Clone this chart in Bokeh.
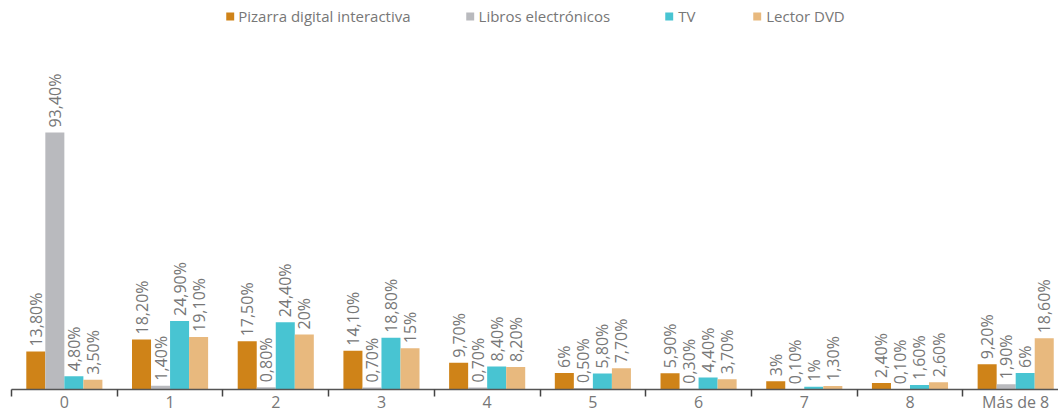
from bokeh.plotting import figure
from bokeh.models import ColumnDataSource, Range1d, FixedTicker, Legend
from bokeh.transform import dodge
from bokeh.core.properties import value
from bokeh.embed import file_html
from bokeh.resources import INLINE

categories = ["0", "1", "2", "3", "4", "5", "6", "7", "8", "Más de 8"]
series_names = ["Pizarra digital interactiva", "Libros electrónicos", "TV", "Lector DVD"]
pizarra = [13.8, 18.2, 17.5, 14.1, 9.7, 6.0, 5.9, 3.0, 2.4, 9.2]
libros = [93.4, 1.4, 0.8, 0.7, 0.7, 0.5, 0.3, 0.1, 0.1, 1.9]
tv = [4.8, 24.9, 24.4, 18.8, 8.4, 5.8, 4.4, 1.0, 1.6, 6.0]
dvd = [3.5, 19.1, 20.0, 15.0, 8.2, 7.7, 3.7, 1.3, 2.6, 18.6]
colors = ["#CF8318", "#B9BABE", "#48C4D2", "#E8B97E"]

FONT = "Open Sans"
TXT = "#777777"


def fmt(v):
    if abs(v - round(v)) < 1e-9:
        return f"{int(round(v))}%"
    return f"{v:.2f}".replace(".", ",") + "%"


xs = [i + 0.5 for i in range(len(categories))]

p = figure(width=1058, height=415, output_backend="svg", toolbar_location=None,
           x_range=Range1d(0, 9.905), y_range=Range1d(0, 141.4),
           min_border_left=11, min_border_right=0, min_border_top=0, min_border_bottom=0)
p.outline_line_color = None
p.grid.visible = False
p.yaxis.visible = False

offsets = [-0.27, -0.09, 0.09, 0.27]
items = []
for name, vals, col, off in zip(series_names, [pizarra, libros, tv, dvd], colors, offsets):
    src = ColumnDataSource(dict(x=xs, y=vals, lab=[fmt(v) for v in vals]))
    r = p.vbar(x=dodge("x", off), top="y", width=0.18, source=src,
               fill_color=col, line_color=None)
    p.text(x=dodge("x", off), y="y", text="lab", source=src, angle=1.5707963,
           text_align="left", text_baseline="middle", x_offset=0, y_offset=-5,
           text_color=TXT, text_font=value(FONT), text_font_size="16px")
    items.append((name, [r]))

legend = Legend(items=items, orientation="horizontal", location="top_center",
                border_line_color=None, background_fill_alpha=0,
                glyph_width=10, glyph_height=10, label_standoff=4, spacing=54,
                padding=0, margin=6, label_text_font=FONT, label_text_font_size="15px",
                label_text_color=TXT)
p.add_layout(legend, "center")

ax = p.xaxis[0]
ax.ticker = FixedTicker(ticks=xs, minor_ticks=list(range(len(categories))))
ax.major_label_overrides = {x: c for x, c in zip(xs, categories)}
ax.major_tick_line_color = None
ax.major_tick_out = 0
ax.major_tick_in = 0
ax.minor_tick_line_color = "#444444"
ax.minor_tick_line_width = 1.5
ax.minor_tick_out = 7
ax.minor_tick_in = 0
ax.axis_line_color = "#555555"
ax.axis_line_width = 1.5
ax.major_label_standoff = -6
ax.major_label_text_font = FONT
ax.major_label_text_font_size = "16px"
ax.major_label_text_color = TXT

open("out.html", "w").write(file_html(p, INLINE))
